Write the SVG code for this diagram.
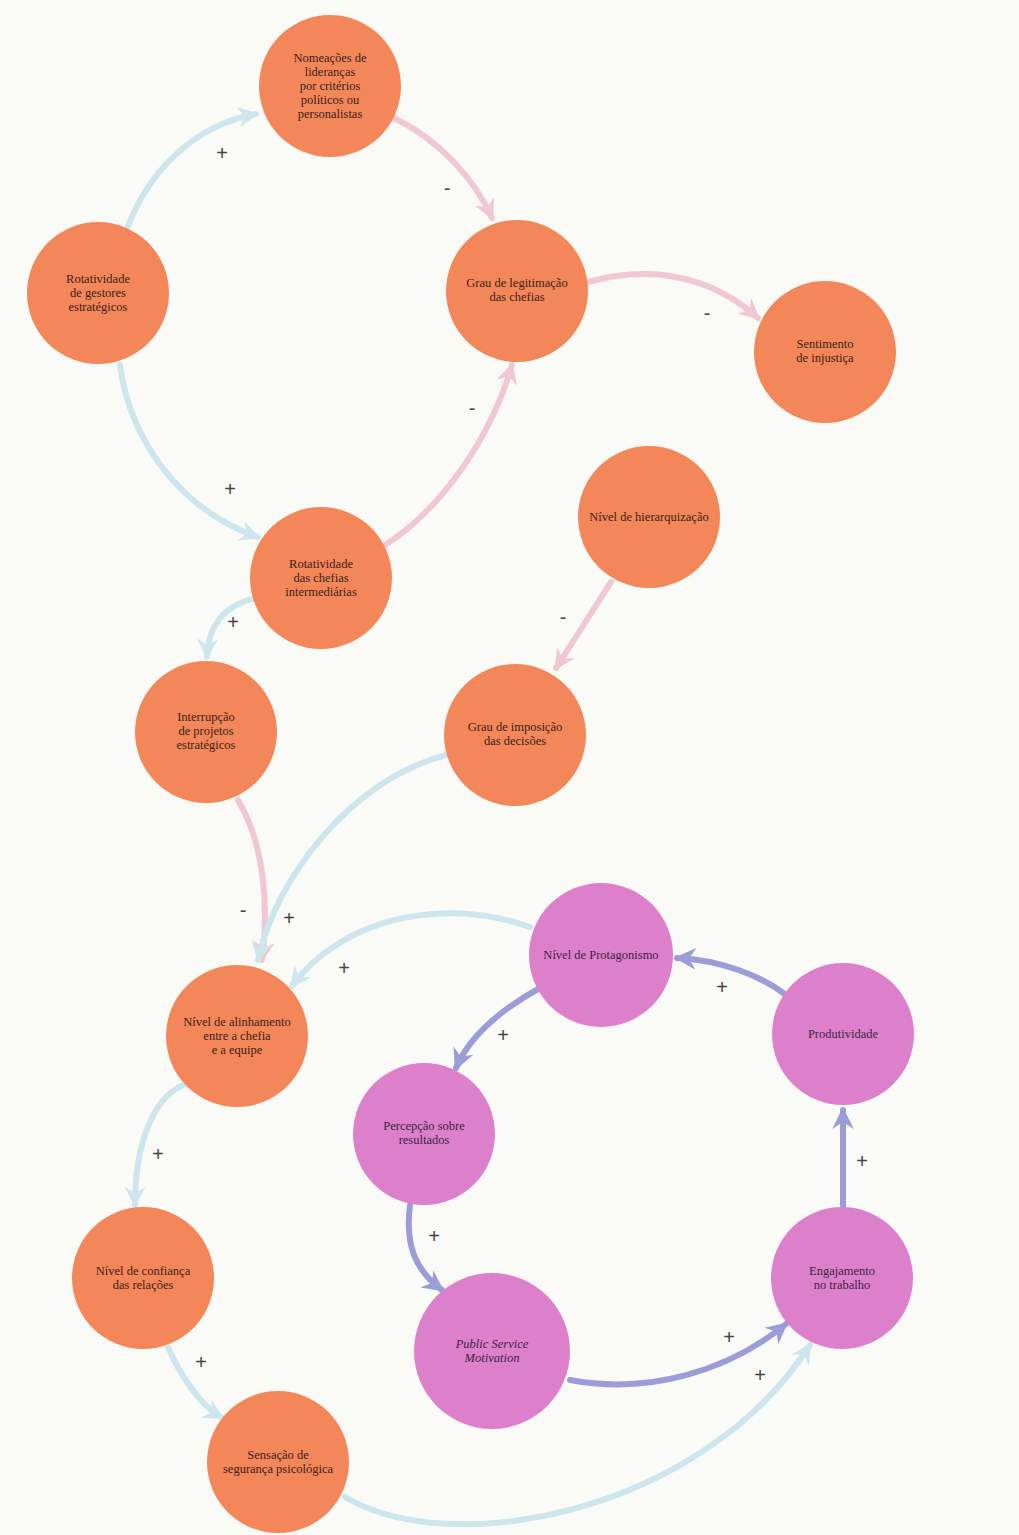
<svg xmlns="http://www.w3.org/2000/svg" width="1019" height="1535" viewBox="0 0 1019 1535">
<style>
.bg{fill:#fafaf7}
.o{fill:#f4875a}
.m{fill:#dd80cc}
.t{font-family:"Liberation Serif",serif;font-size:12.5px;fill:#3a2018;text-anchor:middle}
.tm{font-family:"Liberation Serif",serif;font-size:12.5px;fill:#3e2040;text-anchor:middle}
.c{fill:none;stroke-width:6;stroke-linecap:round}
.b{stroke:#cde6ee}
.p{stroke:#f0c8d2}
.v{stroke:#9c9cd8}
.s{font-family:"Liberation Sans",sans-serif;font-size:20px;fill:#444;text-anchor:middle}
</style>
<defs>
<marker id="ab" viewBox="0 0 20 20" refX="16" refY="10" markerWidth="26" markerHeight="26" markerUnits="userSpaceOnUse" orient="auto"><path d="M2,2 L18,10 L2,18 L7,10 z" fill="#cde6ee"/></marker>
<marker id="ap" viewBox="0 0 20 20" refX="16" refY="10" markerWidth="26" markerHeight="26" markerUnits="userSpaceOnUse" orient="auto"><path d="M2,2 L18,10 L2,18 L7,10 z" fill="#f0c8d2"/></marker>
<marker id="av" viewBox="0 0 20 20" refX="16" refY="10" markerWidth="27" markerHeight="27" markerUnits="userSpaceOnUse" orient="auto"><path d="M2,2 L18,10 L2,18 L7,10 z" fill="#9c9cd8"/></marker>
</defs>
<rect class="bg" width="1019" height="1535"/>
<g id="connectors">
<path class="c b" d="M128,226 C150,170 195,125 256,114" marker-end="url(#ab)"/>
<path class="c p" d="M394,118 C440,140 475,180 492,218" marker-end="url(#ap)"/>
<path class="c p" d="M588,282 C650,265 710,275 758,318" marker-end="url(#ap)"/>
<path class="c b" d="M120,365 C130,440 180,510 258,537" marker-end="url(#ab)"/>
<path class="c p" d="M385,545 C440,510 490,440 512,365" marker-end="url(#ap)"/>
<path class="c p" d="M611,582 L556,668" marker-end="url(#ap)"/>
<path class="c b" d="M256,598 C225,605 208,625 207,657" marker-end="url(#ab)"/>
<path class="c p" d="M238,800 C262,840 270,900 262,960" marker-end="url(#ap)"/>
<path class="c b" d="M446,755 C350,780 275,880 258,960" marker-end="url(#ab)"/>
<path class="c b" d="M530,927 C440,895 340,920 292,986" marker-end="url(#ab)"/>
<path class="c v" d="M540,988 C500,1010 470,1035 456,1068" marker-end="url(#av)"/>
<path class="c v" d="M786,995 C760,975 720,960 677,958" marker-end="url(#av)"/>
<path class="c v" d="M843,1206 L843,1110" marker-end="url(#av)"/>
<path class="c v" d="M410,1205 C405,1245 415,1270 442,1290" marker-end="url(#av)"/>
<path class="c v" d="M570,1380 C650,1395 730,1370 786,1324" marker-end="url(#av)"/>
<path class="c b" d="M183,1085 C150,1100 135,1150 135,1205" marker-end="url(#ab)"/>
<path class="c b" d="M168,1347 C180,1375 200,1405 222,1418" marker-end="url(#ab)"/>
<path class="c b" d="M345,1497 C450,1560 700,1515 810,1345" marker-end="url(#ab)"/>
<text class="s" x="222" y="160">+</text>
<text class="s" x="447" y="195">-</text>
<text class="s" x="707" y="320">-</text>
<text class="s" x="230" y="496">+</text>
<text class="s" x="472" y="415">-</text>
<text class="s" x="563" y="624">-</text>
<text class="s" x="233" y="629">+</text>
<text class="s" x="243" y="917">-</text>
<text class="s" x="289" y="925">+</text>
<text class="s" x="344" y="975">+</text>
<text class="s" x="503" y="1042">+</text>
<text class="s" x="722" y="994">+</text>
<text class="s" x="862" y="1168">+</text>
<text class="s" x="434" y="1243">+</text>
<text class="s" x="729" y="1344">+</text>
<text class="s" x="158" y="1161">+</text>
<text class="s" x="201" y="1369">+</text>
<text class="s" x="760" y="1382">+</text>
</g>
<g id="n1"><circle class="o" cx="330" cy="86" r="71"/><text class="t" x="330" y="62">Nomeações de<tspan x="330" dy="14">lideranças</tspan><tspan x="330" dy="14">por critérios</tspan><tspan x="330" dy="14">políticos ou</tspan><tspan x="330" dy="14">personalistas</tspan></text></g>
<g id="n2"><circle class="o" cx="98" cy="293" r="71"/><text class="t" x="98" y="283">Rotatividade<tspan x="98" dy="14">de gestores</tspan><tspan x="98" dy="14">estratégicos</tspan></text></g>
<g id="n3"><circle class="o" cx="517" cy="291" r="71"/><text class="t" x="517" y="287">Grau de legitimação<tspan x="517" dy="14">das chefias</tspan></text></g>
<g id="n4"><circle class="o" cx="825" cy="352" r="71"/><text class="t" x="825" y="348">Sentimento<tspan x="825" dy="14">de injustiça</tspan></text></g>
<g id="n5"><circle class="o" cx="649" cy="517" r="71"/><text class="t" x="649" y="521">Nível de hierarquização</text></g>
<g id="n6"><circle class="o" cx="321" cy="578" r="71"/><text class="t" x="321" y="568">Rotatividade<tspan x="321" dy="14">das chefias</tspan><tspan x="321" dy="14">intermediárias</tspan></text></g>
<g id="n7"><circle class="o" cx="206" cy="732" r="71"/><text class="t" x="206" y="721">Interrupção<tspan x="206" dy="14">de projetos</tspan><tspan x="206" dy="14">estratégicos</tspan></text></g>
<g id="n8"><circle class="o" cx="515" cy="735" r="71"/><text class="t" x="515" y="731">Grau de imposição<tspan x="515" dy="14">das decisões</tspan></text></g>
<g id="n9"><circle class="m" cx="601" cy="955" r="72"/><text class="tm" x="601" y="959">Nível de Protagonismo</text></g>
<g id="n10"><circle class="m" cx="843" cy="1034" r="71"/><text class="tm" x="843" y="1038">Produtividade</text></g>
<g id="n11"><circle class="o" cx="237" cy="1036" r="71"/><text class="t" x="237" y="1026">Nível de alinhamento<tspan x="237" dy="14">entre a chefia</tspan><tspan x="237" dy="14">e a equipe</tspan></text></g>
<g id="n12"><circle class="m" cx="424" cy="1134" r="71"/><text class="tm" x="424" y="1130">Percepção sobre<tspan x="424" dy="14">resultados</tspan></text></g>
<g id="n13"><circle class="o" cx="143" cy="1278" r="71"/><text class="t" x="143" y="1275">Nível de confiança<tspan x="143" dy="14">das relações</tspan></text></g>
<g id="n14"><circle class="m" cx="842" cy="1278" r="71"/><text class="tm" x="842" y="1275">Engajamento<tspan x="842" dy="14">no trabalho</tspan></text></g>
<g id="n15"><circle class="m" cx="492" cy="1351" r="78"/><text class="tm" x="492" y="1348" font-style="italic">Public Service<tspan x="492" dy="14">Motivation</tspan></text></g>
<g id="n16"><circle class="o" cx="278" cy="1462" r="71"/><text class="t" x="278" y="1459">Sensação de<tspan x="278" dy="14">segurança psicológica</tspan></text></g>
</svg>
